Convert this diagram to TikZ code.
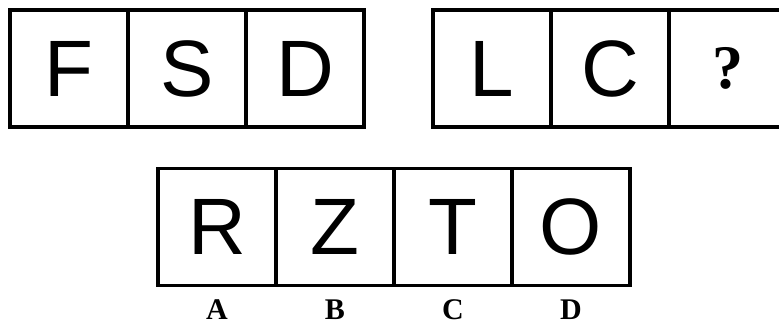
\documentclass[tikz,border=0pt]{standalone}
\usepackage{fontspec}
\setmainfont{Liberation Serif}
\newfontfamily\cellfont{Liberation Sans}
\usetikzlibrary{positioning}

\begin{document}
\begin{tikzpicture}[
  x=1pt, y=-1pt,
  node distance=0pt,
  cell/.style={rectangle, draw, line width=3.2pt, outer sep=0pt, inner sep=0pt,
               minimum width=118pt, minimum height=117pt,
               font=\cellfont\fontsize{80}{80}\selectfont},
  qmark/.style={font=\bfseries\fontsize{62}{62}\selectfont},
  optlabel/.style={inner sep=0pt, text height=20pt, text depth=0pt,
                   font=\bfseries\fontsize{30}{30}\selectfont},
]
\useasboundingbox (0,0) rectangle (779,327);

%% Given row (left)
\node[cell]              (f) at (69,68.5) {F};
\node[cell, right=of f]  (s) {S};
\node[cell, right=of s]  (d) {D};

%% Given row (right)
\node[cell]                    (l) at (492,68.5) {L};
\node[cell, right=of l]        (c) {C};
\node[cell, qmark, right=of c] (q) {?};

%% Options
\node[cell]              (r) at (217,227) {R};
\node[cell, right=of r]  (z) {Z};
\node[cell, right=of z]  (t) {T};
\node[cell, right=of t]  (o) {O};

%% Option labels
\node[optlabel, below=14pt of r] (a) {A};
\node[optlabel, below=14pt of z] (b) {B};
\node[optlabel, below=14pt of t] (cc) {C};
\node[optlabel, below=14pt of o] (dd) {D};

\end{tikzpicture}
\end{document}
